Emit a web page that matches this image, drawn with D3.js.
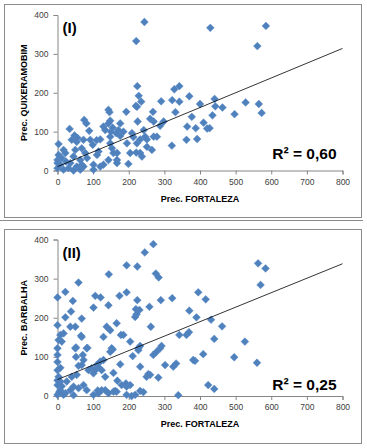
<!DOCTYPE html>
<html>
<head>
<meta charset="utf-8">
<script src="https://cdn.jsdelivr.net/npm/d3@7"></script>
<style>
  html, body { margin: 0; padding: 0; background: #fff; }
  svg { display: block; }
  text { font-family: "Liberation Sans", Arial, sans-serif; }
</style>
</head>
<body>
<svg id="chart" width="367" height="448"></svg>
<script>
// ---- Data ----
const xTicks = [0, 100, 200, 300, 400, 500, 600, 700, 800];
const yTicks = [0, 100, 200, 300, 400];
const xTitle = "Prec. FORTALEZA";

// Panel I : Fortaleza (x) vs Quixeramobim (y)
const panel1Label = "(I)";
const panel1YTitle = "Prec. QUIXERAMOBIM";
const panel1R2 = "R² = 0,60";
const panel1Trend = { intercept: 10, slope: 0.38 };
const panel1Points = [
  [244,382],[429,367],[585,372],[221,333],[561,320],[224,217],[228,192],[235,177],[220,166],
  [291,178],[322,181],[328,209],[342,217],[342,177],[370,191],[400,171],[441,184],[443,165],
  [463,162],[528,175],[565,171],[573,148],[497,145],[435,142],[410,123],[420,108],[427,109],
  [392,81],[362,79],[388,109],[377,138],[364,113],[321,64],[331,150],[298,126],[288,115],
  [270,126],[260,133],[268,151],[223,164],[225,126],[242,104],[209,96],[213,86],[232,80],
  [251,80],[270,87],[279,87],[251,61],[265,53],[232,45],[237,36],[221,46],[204,45],[199,17],
  [195,70],[176,89],[171,104],[165,96],[176,121],[185,100],[148,87],[150,100],[153,57],
  [167,45],[143,156],[146,150],[193,151],[75,130],[81,121],[34,107],[89,102],[129,113],
  [143,121],[134,104],[148,70],[157,45],[167,27],[143,27],[115,49],[111,40],[129,15],
  [101,15],[92,79],[99,66],[73,79],[54,74],[40,79],[50,53],[68,57],[78,45],[83,32],[64,27],
  [68,15],[54,10],[36,19],[45,36],[22,45],[17,53],[3,68],[12,32],[0,27],[8,15],[0,6],[17,2],
  [31,6],[45,0],[64,2],[73,10],[101,2],[120,10],[167,19],[24,23],[3,40],[0,19],[246,87],
  [223,70],[148,128],[155,110],[110,78],[120,80],[48,90],[56,84]
];

// Panel II : Fortaleza (x) vs Barbalha (y)
const panel2Label = "(II)";
const panel2YTitle = "Prec. BARBALHA";
const panel2R2 = "R² = 0,25";
const panel2Trend = { intercept: 42, slope: 0.37 };
const panel2Points = [
  [269,388],[245,367],[194,334],[224,331],[144,311],[276,313],[284,303],[59,290],[0,252],
  [22,266],[43,243],[38,216],[22,201],[68,198],[106,256],[121,252],[101,226],[143,232],
  [174,256],[194,265],[224,245],[220,222],[230,220],[222,209],[258,228],[290,245],[322,250],
  [370,218],[390,201],[395,265],[563,339],[584,326],[570,284],[416,247],[431,195],[462,178],
  [440,146],[526,139],[409,107],[496,99],[560,85],[386,90],[423,28],[440,18],[0,181],[36,177],
  [50,177],[8,156],[17,160],[66,154],[3,143],[12,139],[0,122],[50,122],[82,122],[0,105],
  [71,105],[73,92],[68,79],[0,66],[8,72],[3,49],[54,54],[40,49],[96,71],[110,79],[120,88],
  [129,92],[124,66],[134,49],[176,81],[152,122],[129,151],[138,177],[148,168],[166,186],
  [218,202],[178,156],[204,139],[227,122],[211,102],[262,177],[269,105],[288,122],[302,79],
  [325,75],[333,83],[342,156],[362,156],[369,163],[381,92],[232,75],[250,49],[260,54],
  [283,47],[204,28],[194,24],[180,28],[166,11],[157,11],[143,7],[124,15],[115,7],[101,3],
  [82,15],[73,28],[59,20],[45,24],[36,15],[22,7],[8,15],[0,3],[17,3],[45,2],[232,13],
  [241,10],[218,3],[194,3],[339,2],[8,37],[0,28],[26,37],[155,119],[148,113],[185,156],
  [232,128],[227,117],[278,113],[292,128],[84,123],[68,151],[52,124],[52,100],[59,77],
  [87,66],[115,73],[106,66],[101,58],[157,59],[168,39],[255,56],[192,32],[162,13],[134,15],
  [113,14],[208,0],[0,87],[0,40],[5,10],[12,25]
];

// ---- Drawing ----
const svg = d3.select("#chart");
const axisColor = "#868686";
const markerColor = "#4F81BD";

// outer frames
svg.append("rect").attr("x", 4.5).attr("y", 4.5).attr("width", 357).attr("height", 213)
  .attr("fill", "none").attr("stroke", "#8c8c8c").attr("stroke-width", 1);
svg.append("line").attr("x1", 0).attr("x2", 363).attr("y1", 220.5).attr("y2", 220.5)
  .attr("stroke", "#8c8c8c").attr("stroke-width", 1);
svg.append("rect").attr("x", 4.5).attr("y", 229.5).attr("width", 357).attr("height", 214)
  .attr("fill", "none").attr("stroke", "#8c8c8c").attr("stroke-width", 1);

function drawPanel(cfg) {
  const x = d3.scaleLinear().domain([0, 800]).range([cfg.left, cfg.right]);
  const y = d3.scaleLinear().domain([0, 400]).range([cfg.bottom, cfg.top]);
  const g = svg.append("g");

  // y axis
  const ya = g.append("g").attr("transform", `translate(${cfg.left},0)`)
    .call(d3.axisLeft(y).tickValues(yTicks).tickSize(4).tickPadding(5));
  // x axis
  const xa = g.append("g").attr("transform", `translate(0,${cfg.bottom})`)
    .call(d3.axisBottom(x).tickValues(xTicks).tickSize(4).tickPadding(4));
  [ya, xa].forEach(a => {
    a.select(".domain").attr("stroke", axisColor);
    a.selectAll(".tick line").attr("stroke", axisColor);
    a.selectAll(".tick text").attr("fill", "#404040")
      .style("font-size", "8.5px").style("font-family", "'Liberation Sans', Arial, sans-serif");
  });

  // points
  const diamond = "M0,-3.9L3.9,0L0,3.9L-3.9,0Z";
  g.append("g").selectAll("path").data(cfg.points).join("path")
    .attr("d", diamond)
    .attr("transform", d => `translate(${x(d[0])},${y(d[1])})`)
    .attr("fill", markerColor)
    .attr("stroke", "#5a8ac6").attr("stroke-width", 0.5);

  // trendline
  g.append("line")
    .attr("x1", x(0)).attr("y1", y(cfg.trend.intercept))
    .attr("x2", x(800)).attr("y2", y(cfg.trend.intercept + cfg.trend.slope * 800))
    .attr("stroke", "#000").attr("stroke-width", 0.8);

  // panel label
  g.append("text").attr("x", cfg.left + 5).attr("y", cfg.top + 18)
    .attr("font-weight", "bold").attr("font-size", "15px").attr("fill", "#000")
    .text(cfg.label);

  // R2
  g.append("text").attr("x", x(800) - 6).attr("y", cfg.r2y)
    .attr("text-anchor", "end").attr("font-weight", "bold").attr("font-size", "15.5px")
    .attr("fill", "#000").text(cfg.r2);

  // axis titles
  g.append("text").attr("x", (cfg.left + cfg.right) / 2).attr("y", cfg.bottom + 31)
    .attr("text-anchor", "middle").attr("font-weight", "bold").attr("font-size", "9px")
    .attr("fill", "#000").text(xTitle);
  g.append("text")
    .attr("transform", `translate(26.5,${(cfg.top + cfg.bottom) / 2}) rotate(-90)`)
    .attr("text-anchor", "middle").attr("font-weight", "bold").attr("font-size", "9px")
    .attr("fill", "#000").text(cfg.yTitle);
}

drawPanel({ left: 57.5, right: 342.5, top: 15, bottom: 170.5, points: panel1Points,
  trend: panel1Trend, label: panel1Label, r2: panel1R2, r2y: 159, yTitle: panel1YTitle });
drawPanel({ left: 57.5, right: 342.5, top: 239.5, bottom: 396, points: panel2Points,
  trend: panel2Trend, label: panel2Label, r2: panel2R2, r2y: 390, yTitle: panel2YTitle });
</script>
</body>
</html>
